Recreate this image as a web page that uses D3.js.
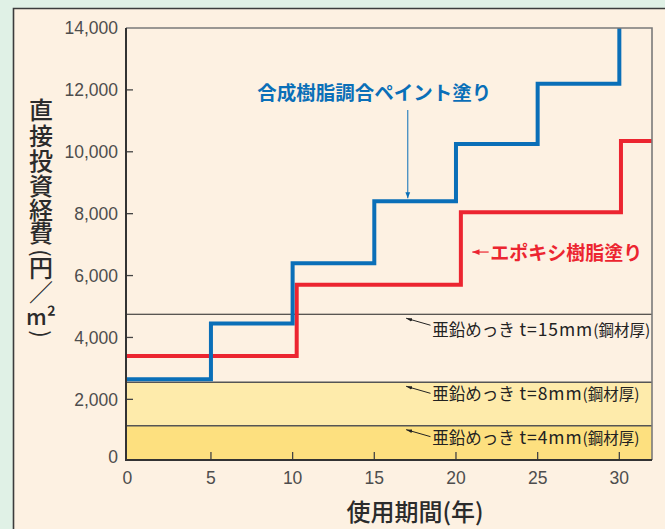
<!DOCTYPE html>
<html lang="ja">
<head>
<meta charset="UTF-8">
<title>直接投資経費</title>
<script src="https://d3js.org/d3.v7.min.js"></script>
<style>
  body { margin: 0; background: #e0f1e6; }
  svg { display: block; }
  .tick-label { font-family: "Liberation Sans", Arial, sans-serif; font-size: 17.5px; fill: #4d4d4d; }
  .jp { font-family: "Noto Sans CJK JP", sans-serif; }
</style>
</head>
<body>
<div id="chart"></div>
<script>
  const W = 665, H = 529;
  const margin = {top: 28, right: 13, bottom: 69, left: 126};

  // blue: 合成樹脂調合ペイント塗り (steps every 5 years)
  const blueYears = [0, 5, 10, 15, 20, 25, 30];
  const blueCost  = [2650, 4450, 6400, 8400, 10250, 12200, 14000];
  // red: エポキシ樹脂塗り (steps every 10 years)
  const redYears = [0, 10.25, 20.3, 30.1];
  const redCost  = [3400, 5700, 8050, 10350];
  // zinc plating levels (亜鉛めっき)
  const zincThick = ["4", "8", "15"];
  const zincCost  = [1150, 2550, 4750];

  const xTicks = [0, 5, 10, 15, 20, 25, 30];
  const yTicks = [0, 2000, 4000, 6000, 8000, 10000, 12000, 14000];

  const svg = d3.select("#chart").append("svg")
    .attr("width", W).attr("height", H);

  // background + cream panel
  svg.append("rect").attr("width", W).attr("height", H).attr("fill", "#e0f1e6");
  svg.append("rect").attr("x", 13).attr("y", 8).attr("width", W).attr("height", H).attr("fill", "#fdf1e2");
  svg.append("path").attr("d", `M13.5,${H} V8.5 H${W}`)
    .attr("fill", "none").attr("stroke", "#3c3c3c").attr("stroke-width", 1.6);

  const x = d3.scaleLinear().domain([-0.2, 32]).range([margin.left, W - margin.right]);
  const y = d3.scaleLinear().domain([40, 14000]).range([H - margin.bottom, margin.top]);
  const x0 = x.range()[0], x1 = x.range()[1];
  const y0 = y.range()[0], y1 = y.range()[1];

  const plot = svg.append("g");
  svg.append("clipPath").attr("id", "clip").append("rect")
    .attr("x", x0).attr("y", y1).attr("width", x1 - x0).attr("height", y0 - y1);

  // zinc bands (bottom two filled)
  const bandFill = ["#fde07f", "#feebab"];
  zincCost.slice(0, 2).forEach((c, i) => {
    const lo = i === 0 ? y.domain()[0] : zincCost[i - 1];
    plot.append("rect")
      .attr("x", x0).attr("width", x1 - x0)
      .attr("y", y(c)).attr("height", y(lo) - y(c))
      .attr("fill", bandFill[i]);
  });
  plot.selectAll("line.zinc").data(zincCost).join("line")
    .attr("class", "zinc")
    .attr("x1", x0).attr("x2", x1)
    .attr("y1", d => y(d)).attr("y2", d => y(d))
    .attr("stroke", (d, i) => i === 2 ? "#222" : "#555")
    .attr("stroke-width", (d, i) => i === 2 ? 1.1 : 1.5);

  // ticks (inside)
  plot.selectAll("line.xt").data(xTicks.filter(d => d > 0)).join("line")
    .attr("class", "xt")
    .attr("x1", d => x(d)).attr("x2", d => x(d))
    .attr("y1", y0).attr("y2", y0 - 8)
    .attr("stroke", "#444").attr("stroke-width", 1.3);
  plot.selectAll("line.yt").data(yTicks.filter(d => d > 0 && d < 14000)).join("line")
    .attr("class", "yt")
    .attr("x1", x0).attr("x2", x0 + 7)
    .attr("y1", d => y(d)).attr("y2", d => y(d))
    .attr("stroke", "#444").attr("stroke-width", 1.3);

  // step lines
  const line = d3.line().curve(d3.curveStepAfter)
    .x(d => d[0]).y(d => y(d[1]));

  const bluePts = blueYears.map((yr, i) => [i === 0 ? x0 : x(yr), blueCost[i]]);
  const redPts = redYears.map((yr, i) => [i === 0 ? x0 : x(yr), redCost[i]]);
  redPts.push([x1, redCost[redCost.length - 1]]);

  plot.append("path").attr("d", line(redPts))
    .attr("clip-path", "url(#clip)")
    .attr("fill", "none").attr("stroke", "#ec2530").attr("stroke-width", 4);
  plot.append("path").attr("d", line(bluePts))
    .attr("clip-path", "url(#clip)")
    .attr("fill", "none").attr("stroke", "#0a6fb8").attr("stroke-width", 4);

  // frame
  plot.append("path").attr("d", `M${x0},${y1} H${x1} V${y0}`)
    .attr("fill", "none").attr("stroke", "#7a7a7a").attr("stroke-width", 1.6);
  plot.append("path").attr("d", `M${x0},${y1} V${y0} H${x1}`)
    .attr("fill", "none").attr("stroke", "#333").attr("stroke-width", 2);

  // tick labels
  svg.selectAll("text.yl").data(yTicks).join("text")
    .attr("class", "tick-label yl")
    .attr("x", x0 - 8)
    .attr("y", d => y(d))
    .attr("dy", d => d === 0 ? "0.1em" : "0.36em")
    .attr("text-anchor", "end")
    .text(d => d3.format(",")(d));
  svg.selectAll("text.xl").data(xTicks).join("text")
    .attr("class", "tick-label xl")
    .attr("x", d => x(d) - (d === 0 ? 2 : 0))
    .attr("y", y0 + 24)
    .attr("text-anchor", "middle")
    .text(d => d);

  // axis titles
  svg.append("text").attr("class", "jp")
    .attr("x", x(17.5)).attr("y", y0 + 61)
    .attr("text-anchor", "middle")
    .attr("font-size", 24).attr("font-weight", 500).attr("fill", "#2b2b2b")
    .text("使用期間(年)");

  // vertical title: upright glyphs stacked in one text, brackets turned
  const yTitle = ["直", "接", "投", "資", "経", "費", "(", "円", "／", "m²", ")"];
  const yTitlePos = [110, 136, 161, 186, 210, 233, 253, 268, 292, 316, 334];
  const ytText = svg.append("text").attr("class", "jp")
    .attr("text-anchor", "middle")
    .attr("font-size", 24).attr("font-weight", 500).attr("fill", "#2b2b2b");
  yTitle.forEach((ch, i) => {
    if (ch === "(" || ch === ")") return;
    ytText.append("tspan")
      .attr("x", 41).attr("y", yTitlePos[i] + 8.5)
      .attr("font-size", ch === "m²" ? 22 : 24)
      .text(ch);
  });
  yTitle.forEach((ch, i) => {
    if (ch !== "(" && ch !== ")") return;
    svg.append("text").attr("class", "jp")
      .attr("x", 41).attr("y", yTitlePos[i]).attr("dy", "0.36em")
      .attr("text-anchor", "middle")
      .attr("font-size", 22).attr("fill", "#2b2b2b")
      .attr("transform", `rotate(90,41,${yTitlePos[i]})`)
      .text(ch);
  });

  // series labels
  svg.append("defs").html(`
    <marker id="ab" viewBox="0 0 10 10" refX="10" refY="5" markerWidth="6" markerHeight="6" orient="auto">
      <path d="M0,1 L10,5 L0,9 z" fill="#0a6fb8"/></marker>
    <marker id="ar" viewBox="0 0 10 10" refX="10" refY="5" markerWidth="6" markerHeight="6" orient="auto">
      <path d="M0,1 L10,5 L0,9 z" fill="#ec2530"/></marker>
    <marker id="ak" viewBox="0 0 10 10" refX="10" refY="5" markerWidth="6" markerHeight="6" orient="auto">
      <path d="M0,2 L10,5 L0,8 z" fill="#222"/></marker>`);

  svg.append("text").attr("class", "jp")
    .attr("x", x(15)).attr("y", 100)
    .attr("text-anchor", "middle")
    .attr("font-size", 19.5).attr("font-weight", 700).attr("fill", "#0a6fb8")
    .text("合成樹脂調合ペイント塗り");
  svg.append("line")
    .attr("x1", x(17.05)).attr("x2", x(17.05))
    .attr("y1", 110).attr("y2", y(blueCost[3]) - 3)
    .attr("stroke", "#0a6fb8").attr("stroke-width", 1)
    .attr("marker-end", "url(#ab)");

  const redLabelY = y(6760);
  svg.append("line")
    .attr("x1", x(22)).attr("x2", x(21))
    .attr("y1", redLabelY).attr("y2", redLabelY)
    .attr("stroke", "#ec2530").attr("stroke-width", 1.2)
    .attr("marker-end", "url(#ar)");
  svg.append("text").attr("class", "jp")
    .attr("x", x(22.1)).attr("y", redLabelY + 8)
    .attr("font-size", 19).attr("font-weight", 700).attr("fill", "#ec2530")
    .text("エポキシ樹脂塗り");

  // zinc labels
  const zincG = svg.selectAll("g.zl").data(zincCost).join("g").attr("class", "zl");
  zincG.append("line")
    .attr("x1", x(18.5) - 1).attr("x2", x(16.95))
    .attr("y1", d => y(d) + 11).attr("y2", d => y(d) + 4)
    .attr("stroke", "#222").attr("stroke-width", 1)
    .attr("marker-end", "url(#ak)");
  const zt = zincG.append("text").attr("class", "jp")
    .attr("x", x(18.55))
    .attr("y", (d, i) => y(d) + (i === 2 ? 22 : 18))
    .attr("fill", "#222");
  zt.append("tspan").attr("font-size", 16.5)
    .text("亜鉛めっき");
  zt.append("tspan").attr("font-size", 17.5).attr("letter-spacing", 0.9)
    .text((d, i) => ` t=${zincThick[i]}mm`);
  zt.append("tspan").attr("font-size", 15.5)
    .text("(鋼材厚)");
</script>
</body>
</html>
